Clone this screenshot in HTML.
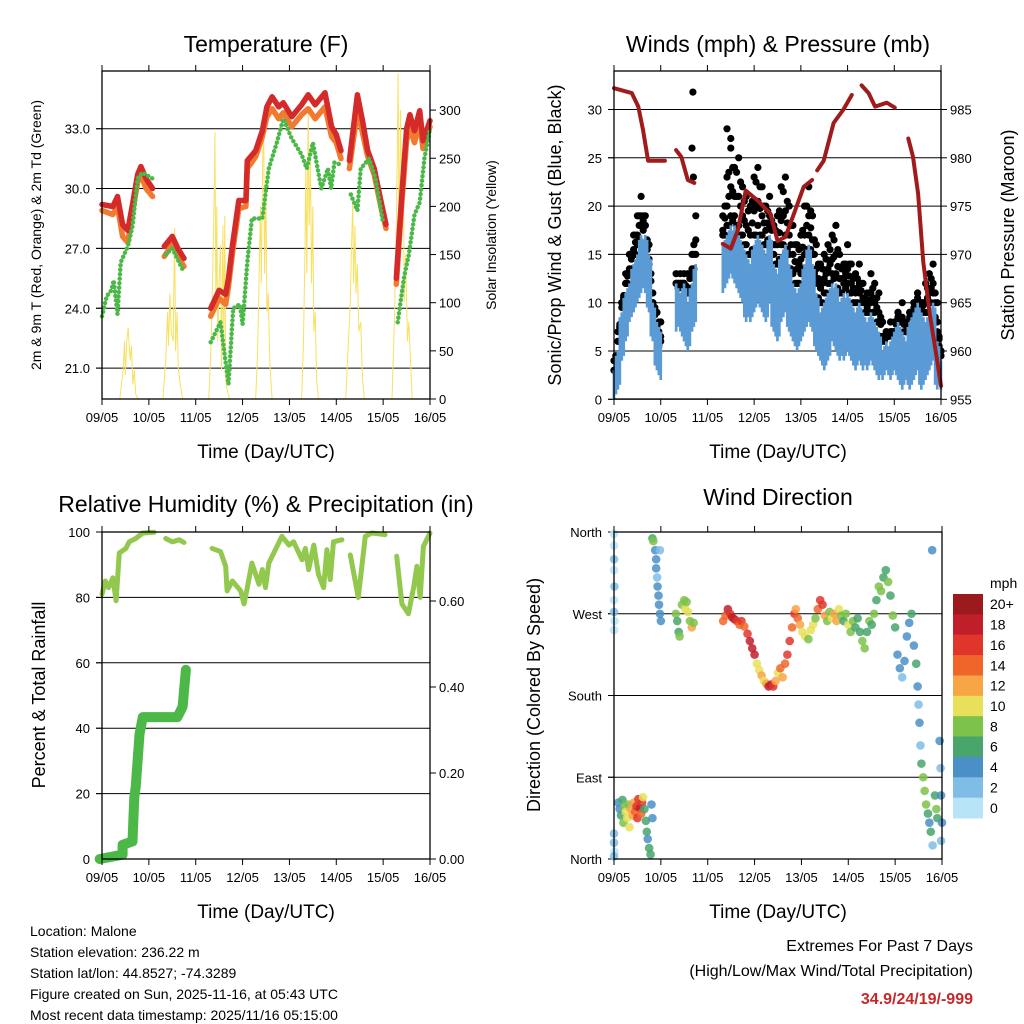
<!DOCTYPE html>
<html><head><meta charset="utf-8">
<style>
html,body{margin:0;padding:0;background:#fff;}
svg{display:block;font-family:"Liberation Sans",Arial,sans-serif;}
</style></head>
<body>
<svg id="chart" width="1024" height="1024" viewBox="0 0 1024 1024" xmlns="http://www.w3.org/2000/svg">
<rect width="1024" height="1024" fill="#fff"/>
<text x="266" y="52" font-size="23" text-anchor="middle">Temperature (F)</text>
<text x="778" y="52" font-size="23" text-anchor="middle">Winds (mph) &amp; Pressure (mb)</text>
<text x="266" y="512" font-size="23" text-anchor="middle">Relative Humidity (%) &amp; Precipitation (in)</text>
<text x="778" y="505" font-size="23" text-anchor="middle">Wind Direction</text>
<text x="266" y="458" font-size="19" text-anchor="middle">Time (Day/UTC)</text>
<text x="778" y="458" font-size="19" text-anchor="middle">Time (Day/UTC)</text>
<text x="266" y="918" font-size="19" text-anchor="middle">Time (Day/UTC)</text>
<text x="778" y="918" font-size="19" text-anchor="middle">Time (Day/UTC)</text>
<text transform="translate(41,235) rotate(-90)" font-size="14" text-anchor="middle">2m &amp; 9m T (Red, Orange) &amp; 2m Td (Green)</text>
<text transform="translate(496,235) rotate(-90)" font-size="14" text-anchor="middle">Solar Insolation (Yellow)</text>
<text transform="translate(561,235) rotate(-90)" font-size="18" text-anchor="middle">Sonic/Prop Wind &amp; Gust (Blue, Black)</text>
<text transform="translate(1014,235) rotate(-90)" font-size="18" text-anchor="middle">Station Pressure (Maroon)</text>
<text transform="translate(45,695) rotate(-90)" font-size="18" text-anchor="middle">Percent &amp; Total Rainfall</text>
<text transform="translate(540,695) rotate(-90)" font-size="18" text-anchor="middle">Direction (Colored By Speed)</text>
<g font-size="14">
<text x="30" y="936">Location: Malone</text>
<text x="30" y="957">Station elevation: 236.22 m</text>
<text x="30" y="978">Station lat/lon: 44.8527; -74.3289</text>
<text x="30" y="999">Figure created on Sun, 2025-11-16, at 05:43 UTC</text>
<text x="30" y="1020">Most recent data timestamp: 2025/11/16 05:15:00</text>
</g>
<g font-size="16" text-anchor="end">
<text x="973" y="951">Extremes For Past 7 Days</text>
<text x="973" y="976">(High/Low/Max Wind/Total Precipitation)</text>
<text x="973" y="1004" font-weight="bold" fill="#c62828">34.9/24/19/-999</text>
</g>
<g id="layer"></g>
</svg>
<script>
const dayLabels = ["09/05","10/05","11/05","12/05","13/05","14/05","15/05","16/05"];
const redT = [0,.23,.33,.44,.55,.65,.76,.83,.94,1.08,null,1.33,1.5,1.62,1.75,null,2.32,2.5,2.64,2.7,2.78,2.92,3.07,3.1,3.28,3.42,3.52,3.63,3.77,3.87,4.05,4.26,4.4,4.55,4.76,4.9,5.0,5.1,null,5.28,5.45,5.56,5.67,5.81,5.95,6.06,null,6.28,6.39,6.5,6.57,6.67,6.78,6.85,7.0];
const redV = [29.2,29.1,29.6,28.2,27.9,29.2,30.7,31.1,30.5,30.0,null,27.1,27.6,27.0,26.5,null,24.0,24.9,24.7,25.5,27.1,29.4,29.4,31.4,31.9,32.9,34.1,34.6,34.1,34.3,33.6,34.2,34.7,34.2,34.8,33.1,32.7,31.9,null,31.4,34.7,33.4,31.9,31.0,29.4,28.2,null,25.5,29.4,33.0,33.7,32.9,33.9,32.4,33.4];
const orangeV = [28.9,28.7,29.1,27.6,27.3,28.8,30.3,30.7,30.0,29.6,null,26.6,27.2,26.6,26.1,null,23.6,24.5,24.2,25.1,26.7,29.0,29.1,31.0,31.6,32.6,33.6,34.0,33.5,33.8,33.1,33.7,34.0,33.5,34.1,32.6,32.3,31.5,null,31.0,33.9,32.8,31.6,30.7,29.1,28.0,null,25.2,29.0,32.4,33.0,32.3,33.3,32.0,33.1];
const dewT = [0,.1,.2,.25,.33,.4,.55,.65,.76,.86,1.08,null,1.36,1.5,1.75,null,2.32,2.53,2.6,2.7,2.8,2.94,3.0,3.1,3.2,3.42,3.56,3.73,3.87,4.05,4.26,4.37,4.5,4.68,4.82,4.89,4.96,5.1,null,5.31,5.45,5.52,5.7,5.84,5.99,null,6.31,6.45,6.55,6.67,6.78,6.88,7.0];
const dewV = [23.6,24.6,24.9,25.4,23.7,26.3,27.1,28.1,30.5,30.8,30.5,null,26.7,27.0,25.8,null,22.3,23.3,22.0,20.2,24.0,24.2,23.2,26.3,28.5,28.5,31.0,32.3,33.5,32.5,31.7,31.0,32.3,30.0,31.0,30.0,31.3,31.2,null,29.7,28.9,31.0,31.5,30.5,28.4,null,23.3,25.6,26.7,28.7,29.3,31.5,33.0];
const solarT = [0.38,0.45,0.48,0.5,0.53,0.56,0.6,0.63,0.66,0.69,0.72,0.77, 1.3,1.36,1.4,1.42,1.45,1.48,1.52,1.55,1.57,1.6,1.63,1.67,1.72, 2.28,2.33,2.37,2.4,2.41,2.43,2.45,2.47,2.5,2.53,2.55,2.58,2.6,2.62,2.64,2.67,2.72, 3.28,3.32,3.35,3.38,3.4,3.43,3.45,3.47,3.5,3.52,3.55,3.58,3.63, 4.26,4.3,4.33,4.35,4.37,4.4,4.42,4.45,4.47,4.5,4.52,4.55,4.58,4.62, 5.2,5.25,5.3,5.32,5.35,5.37,5.4,5.42,5.45,5.48,5.52,5.56,5.6, 6.19,6.24,6.28,6.3,6.32,6.34,6.37,6.4,6.43,6.45,6.48,6.52,6.55,6.6,6.62];
const solarV = [0,30,60,25,62,74,40,55,15,30,5,0, 0,40,90,55,110,70,60,178,50,90,30,15,0, 0,60,150,230,277,100,200,60,120,160,30,180,60,190,20,10,0, 0,50,120,200,120,250,282,130,220,90,110,40,0, 0,60,150,240,130,300,180,250,120,200,70,90,20,0, 0,50,100,150,203,120,180,110,140,70,80,20,0, 0,80,180,250,338,150,300,200,260,100,150,60,80,20,0];
const windT = [0,.083,.167,.25,.33,.42,.5,.58,.67,.75,.83,.92,1.0,null,1.33,1.42,1.5,1.58,1.67,1.75,null,2.33,2.42,2.5,2.58,2.67,2.75,2.83,2.92,3.0,3.08,3.17,3.25,3.33,3.42,3.5,3.58,3.67,3.75,3.83,3.92,4.0,4.08,4.17,4.25,4.33,4.42,4.5,4.58,4.67,4.75,4.83,4.92,5.0,5.08,5.17,5.25,5.33,5.42,5.5,5.58,5.67,5.75,5.83,5.92,6.0,6.08,6.17,6.25,6.33,6.42,6.5,6.58,6.67,6.75,6.83,6.92,7.0];
const windLo = [0,1,4,6,8,9,10,11,11,9,6,3,2,null,7,7,6,5,7,8,null,11,12,13,12,11,10,8,8,9,10,9,8,10,7,6,8,9,7,6,5,6,7,8,7,5,4,3,4,6,5,4,4,5,4,3,4,3,3,4,3,2,2,3,2,3,2,1,2,1,2,3,1,2,3,4,1,1];
const windHi = [3,5,9,11,12,14,15,17,17,15,10,8,7,null,12,11,12,10,12,14,null,16,17,18,18,17,16,15,14,16,17,16,15,17,14,13,15,16,14,12,11,12,14,16,14,11,9,10,11,12,12,10,11,11,10,9,10,9,8,9,8,7,5,6,6,7,8,7,6,8,9,10,9,8,9,10,6,4];
const gustV = [3,7,10,13,15,17,19,21,19,14,10,7,6,null,12,13,12,13,15,19,null,19,23,26,24,25,22,21,20,23,24,22,20,21,18,19,22,23,20,18,16,17,20,22,19,16,14,15,16,17,18,15,14,16,14,13,14,12,11,13,12,11,8,7,8,7,9,10,8,9,10,11,10,12,13,14,10,5];
const gustOutT = [1.69, 1.67, 1.7, 2.42, 2.5, 1.0];
const gustOutV = [31.8, 26, 23, 28, 27, 8];
const presT = [0,.38,.52,.62,.73,.87,1.09,null,1.33,1.44,1.58,1.72,null,2.33,2.5,2.65,2.82,3.07,3.35,3.5,3.67,3.85,4.06,4.24,null,4.35,4.49,4.7,4.91,5.09,null,5.3,5.45,5.59,5.84,6.01,null,6.3,6.4,6.51,6.62,6.76,6.9,7.0];
const presV = [987.2,986.7,985.3,982.9,979.7,979.7,979.7,null,980.8,980.1,977.7,977.4,null,971.1,970.6,972.5,976.6,975.6,974.2,971.4,971.8,974.2,977.0,977.7,null,978.7,979.7,983.6,985.0,986.5,null,987.5,986.7,985.3,985.7,985.2,null,982.0,980.1,976.3,969.3,963.8,959.6,956.4];
const rhT = [0,.07,.14,.23,.3,.37,.51,.58,.72,.87,1.11,null,1.36,1.5,1.65,1.75,null,2.35,2.53,2.64,2.67,2.78,2.96,3.03,3.1,3.2,3.35,3.42,3.49,3.56,3.7,3.84,3.99,4.09,4.27,4.34,4.41,4.52,4.62,4.73,4.8,4.87,4.94,5.12,null,5.3,5.47,5.62,5.76,6.04,null,6.29,6.4,6.54,6.65,6.72,6.79,6.86,7.0];
const rhV = [81,85,83,86,79,93.6,95,97,98,99.7,99.9,null,98,97,97.6,96.8,null,95,94,89.5,82,85,82,78,83,90.5,84,88.5,83,90.5,94.6,98.7,96,97,91.5,95,88.5,96,87,83,94.6,85.4,97,97.6,null,93,80,98.7,99.7,99.2,null,92.6,78,75,83,89.5,80,95.6,99.7];
const precipT = [-0.05,0.44,0.44,0.65,0.69,0.72,0.8,0.87,1.15,1.29,1.61,1.72,1.79];
const precipV = [0.0,0.01,0.033,0.041,0.144,0.167,0.29,0.33,0.33,0.33,0.33,0.354,0.44];
const dirT = [0,0,0,0,0.01,0,0,0.01,0,0,0,0.01,0,
 0.09,0.12,0.15,0.18,0.2,0.22,0.25,0.28,0.3,0.33,0.36,0.4,0.42,0.45,0.48,0.5,0.52,0.55,0.58,0.6,0.62,0.65,0.68,0.7,0.72,0.75,0.78,0.8,0.82,
 0.82,0.84,0.88,0.9,0.9,0.92,0.93,0.95,0.96,0.98,1.0,0.98,
 1.32,1.35,1.38,1.4,1.45,1.5,1.52,1.55,1.58,1.62,1.66,1.7,
 2.33,2.38,2.43,2.48,2.52,2.57,2.62,2.68,2.72,2.78,2.85,2.9,2.95,3.0,3.05,3.1,3.15,3.2,3.25,3.3,3.35,3.4,3.45,3.5,3.55,3.6,3.65,3.7,3.75,3.8,3.85,3.88,3.92,3.97,4.02,4.08,4.15,4.2,4.25,4.3,4.35,4.4,4.45,4.5,4.55,4.6,4.65,4.7,4.75,4.8,4.85,4.9,4.95,5.0,5.05,5.1,5.15,5.2,5.25,5.3,5.35,5.4,5.45,5.5,5.55,5.6,5.65,5.7,5.75,5.8,5.85,5.9,5.95,6.0,6.05,6.1,6.15,6.2,6.25,6.3,6.35,6.4,6.45,6.48,6.5,6.52,6.54,6.56,6.6,6.63,6.66,6.7,6.73,6.76,6.79,6.8,6.85,6.88,6.9,6.95,6.97,6.98,7.0,6.98];
const dirD = [358,345,330,318,300,285,272,262,252,28,18,8,3,
 62,55,48,65,40,58,52,45,60,35,55,48,62,52,58,45,66,56,50,62,68,55,42,30,22,12,5,60,45,
 353,350,340,330,320,310,300,290,280,270,262,340,
 270,262,250,245,280,285,275,283,272,262,255,260,
 262,268,275,270,266,264,262,258,262,256,248,240,232,225,215,208,202,196,193,190,192,190,196,205,210,200,215,225,240,255,270,275,265,258,250,245,242,252,258,265,275,285,280,268,262,272,265,270,262,275,268,262,270,258,250,262,255,265,250,240,232,250,262,258,270,285,300,295,310,318,305,290,268,255,225,210,200,218,245,260,270,235,215,190,170,150,125,105,90,75,60,50,40,30,340,15,70,55,45,130,100,70,40,20];
const dirS = [1,1,2,1,2,1,2,1,1,2,2,1,2,
 5,4,7,6,9,8,10,11,9,10,13,12,13,15,16,17,17,18,15,16,10,7,6,6,5,7,6,5,4,
 7,8,4,4,4,3,4,4,4,4,4,3,
 8,7,7,8,8,9,10,8,11,8,12,8,
 14,15,18,17,19,18,17,14,16,15,16,18,19,19,10,11,12,10,13,18,19,16,12,11,14,12,15,16,17,15,16,13,14,12,10,10,9,10,11,9,14,17,16,13,9,8,10,12,13,11,9,7,8,10,9,8,6,6,7,9,8,7,9,7,8,7,8,9,7,6,9,7,8,7,4,4,3,4,5,5,6,5,6,4,3,4,3,7,8,9,8,6,5,7,4,3,6,8,7,4,3,5,4,3];
const speedBins = ["0","2","4","6","8","10","12","14","16","18","20+"];
const binColors = ["#b8e4f8","#7fbce6","#4a8fc6","#48a56c","#7dc24a","#e8e05a","#f7a545","#f0652a","#e0352b","#c01f2a","#9b1a1e"];

const NS="http://www.w3.org/2000/svg";
const layer=document.getElementById('layer');
function mk(tag,attrs,parent){const e=document.createElementNS(NS,tag);for(const k in attrs)e.setAttribute(k,attrs[k]);(parent||layer).appendChild(e);return e;}
function pathFrom(ts,vs,sx,sy){let d="",pen=false;for(let i=0;i<ts.length;i++){if(ts[i]===null||vs[i]===null){pen=false;continue;}d+=(pen?"L":"M")+sx(ts[i]).toFixed(1)+","+sy(vs[i]).toFixed(1);pen=true;}return d;}
function panel(x0,x1,y0,y1,name){
  const g=mk('g',{});
  
  
  const sx=t=>x0+(x1-x0)*t/7;
  return {g,sx,x0,x1,y0,y1};
}
function frame(p,name){
  const r=mk('rect',{x:p.x0,y:p.y0,width:p.x1-p.x0,height:p.y1-p.y0,fill:'none',stroke:'#000','stroke-width':1.3},p.g);
  
  
  for(let i=0;i<dayLabels.length;i++){
    const x=p.sx(i);
    mk('line',{x1:x,x2:x,y1:p.y1,y2:p.y1+6,stroke:'#000'},p.g);
    mk('line',{x1:x,x2:x,y1:p.y0,y2:p.y0-6,stroke:'#000'},p.g);
    const t=mk('text',{x:x,y:p.y1+23,'font-size':13,'text-anchor':'middle'},p.g);
    t.textContent=dayLabels[i];
    
    
  }
}
function yAxis(p,vals,labels,sy,side,name,grid){
  for(let i=0;i<vals.length;i++){
    const y=sy(vals[i]);
    if(grid) mk('line',{x1:p.x0-6,x2:p.x1,y1:y,y2:y,stroke:'#000','stroke-width':1},p.g);
    const x=side==='left'?p.x0:p.x1;
    mk('line',{x1:x,x2:side==='left'?x-6:x+6,y1:y,y2:y,stroke:'#000'},p.g);
    const t=mk('text',{x:side==='left'?x-12:x+9,y:y+5,'font-size':13,'text-anchor':side==='left'?'end':'start'},p.g);
    t.textContent=labels[i];
    
    
  }
}
// Panel 1
{
  const p=panel(102,430,71,399,'temperature');
  const sy=v=>128.7+(33-v)*19.95;
  const ss=v=>399-v*0.963;
  yAxis(p,[33,30,27,24,21],["33.0","30.0","27.0","24.0","21.0"],sy,'left','temp-y',true);
  yAxis(p,[300,250,200,150,100,50,0],["300","250","200","150","100","50","0"],ss,'right','solar-y',false);
  const sol=mk('path',{d:pathFrom(solarT,solarV,p.sx,ss),fill:'none',stroke:'#f8e060','stroke-width':1},p.g);
  
  
  const o=mk('path',{d:pathFrom(redT,orangeV,p.sx,sy),fill:'none',stroke:'#f07a30','stroke-width':5.5,'stroke-linecap':'round','stroke-linejoin':'round'},p.g);
  
  
  const r=mk('path',{d:pathFrom(redT,redV,p.sx,sy),fill:'none',stroke:'#d42a2a','stroke-width':5.5,'stroke-linecap':'round','stroke-linejoin':'round'},p.g);
  
  
  const d=mk('path',{d:pathFrom(dewT,dewV,p.sx,sy),fill:'none',stroke:'#4cb848','stroke-width':4.5,'stroke-linecap':'round','stroke-dasharray':'0 4.5'},p.g);
  
  
  frame(p,'temperature');
}
// Panel 2
{
  const p=panel(614,941,71,399,'winds');
  const sy=v=>399.3-v*9.66;
  const sp=v=>399.3-(v-955)*9.66;
  yAxis(p,[0,5,10,15,20,25,30],["0","5","10","15","20","25","30"],sy,'left','wind-y',true);
  yAxis(p,[955,960,965,970,975,980,985],["955","960","965","970","975","980","985"],sp,'right','pressure-y',false);
  function dot(t,v){
    const c=mk('circle',{cx:p.sx(t).toFixed(1),cy:sy(v).toFixed(1),r:3.6,fill:'#000'},p.g);
    
    
  }
  for(let i=0;i<windT.length;i++){
    if(windT[i]===null)continue;
    dot(windT[i],gustV[i]);
    dot(windT[i],(gustV[i]+windHi[i])/2);
    dot(windT[i],windHi[i]+1);
    if(i+1<windT.length&&windT[i+1]!==null){
      const tm=(windT[i]+windT[i+1])/2;
      const gm=(gustV[i]+gustV[i+1])/2, hm=(windHi[i]+windHi[i+1])/2;
      dot(tm,gm-1);
      dot(tm,(gm+hm)/2);
      dot(tm,hm+0.5);
    }
  }
  for(let i=0;i<gustOutT.length;i++) dot(gustOutT[i],gustOutV[i]);
  // wind band: columns between lo and hi, plus interpolated columns
  const dx=p.sx(1/12)-p.sx(0);
  for(let i=0;i<windT.length;i++){
    if(windT[i]===null)continue;
    const cols=[[windT[i],windLo[i],windHi[i]]];
    if(i+1<windT.length&&windT[i+1]!==null){
      cols.push([(windT[i]+windT[i+1])/2,Math.min(windLo[i],windLo[i+1])+0.5,Math.max(windHi[i],windHi[i+1])-0.5]);
    }
    for(const c of cols){
      const y1=sy(c[2]),y2=sy(c[1]);
      const b=mk('rect',{x:(p.sx(c[0])-dx*0.35).toFixed(1),y:y1.toFixed(1),width:(dx*0.7).toFixed(1),height:(y2-y1).toFixed(1),fill:'#5b9bd5'},p.g);
      
      
    }
  }
  const pr=mk('path',{d:pathFrom(presT,presV,p.sx,sp),fill:'none',stroke:'#a01c1c','stroke-width':4,'stroke-linecap':'round','stroke-linejoin':'round'},p.g);
  
  
  frame(p,'winds');
}
// Panel 3
{
  const p=panel(102,430,532,859,'humidity');
  const sy=v=>859-v*3.27;
  const sr=v=>859-v*430;
  yAxis(p,[0,20,40,60,80,100],["0","20","40","60","80","100"],sy,'left','rh-y',true);
  yAxis(p,[0,0.2,0.4,0.6],["0.00","0.20","0.40","0.60"],sr,'right','precip-y',false);
  const rh=mk('path',{d:pathFrom(rhT,rhV,p.sx,sy),fill:'none',stroke:'#92c84e','stroke-width':5,'stroke-linecap':'round','stroke-linejoin':'round'},p.g);
  
  
  const pc=mk('path',{d:pathFrom(precipT,precipV,p.sx,sr),fill:'none',stroke:'#4cb848','stroke-width':10,'stroke-linecap':'round','stroke-linejoin':'round'},p.g);
  
  
  frame(p,'humidity');
}
// Panel 4
{
  const p=panel(614,942,532,859,'wind-direction');
  const sy=v=>859-v*(327/360);
  yAxis(p,[0,90,180,270,360],["North","East","South","West","North"],sy,'left','dir-y',true);
  for(let i=0;i<dirT.length;i++){
    const bin=Math.min(10,Math.floor(dirS[i]/2));
    const c=mk('circle',{cx:p.sx(dirT[i]),cy:sy(dirD[i]),r:4.3,fill:binColors[bin],'fill-opacity':0.85},p.g);
    
    
  }
  frame(p,'wind-direction');
  const cb=mk('g',{});
  
  
  const t0=mk('text',{x:990,y:588,'font-size':14},cb);t0.textContent="mph";
  const h=224/11;
  for(let i=0;i<11;i++){
    const k=10-i;const y=594+i*h;
    const r=mk('rect',{x:953,y:y,width:30,height:h+0.5,fill:binColors[k]},cb);
    
    
    const t=mk('text',{x:990,y:y+h/2+5,'font-size':14},cb);
    t.textContent=speedBins[k];
    
    
  }
}
</script>
</body></html>
